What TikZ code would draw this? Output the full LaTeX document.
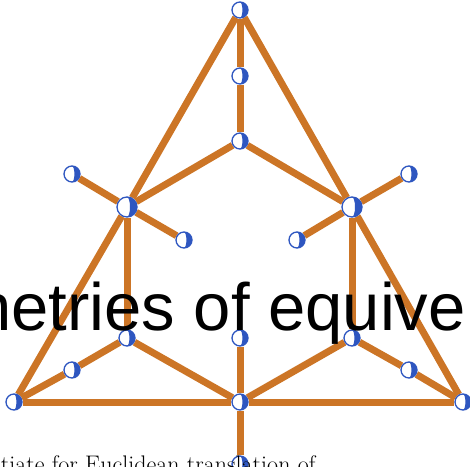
\documentclass[tikz,border=0pt]{standalone}
\usepackage{fontspec}
\newfontfamily\headfont{Liberation Sans}
\usepackage{tikz}
\definecolor{edgeorange}{HTML}{CC7526}
\definecolor{vertexblue}{HTML}{2E56C0}
\usetikzlibrary{backgrounds}

\begin{document}
\begin{tikzpicture}[
  x=1pt, y=1pt,
  vtx/.style={circle, draw=vertexblue, line width=1.3pt, fill=white,
              inner sep=0pt, minimum size=2*#1,
              path picture={\fill[vertexblue] (path picture bounding box.north)
                arc[start angle=90, end angle=-90, radius=#1]
                arc[start angle=-90, end angle=90, x radius=0.3*#1, y radius=#1]
                -- cycle;}},
  vtx/.default=8pt,
  hub/.style={vtx=10pt},
  edge/.style={draw=edgeorange, line width=7pt},
  banner/.style={font=\headfont\fontsize{67}{70}\selectfont, anchor=base west,
                 inner sep=0pt},
  caption/.style={font=\fontsize{24}{26}\selectfont, anchor=base west,
                  inner sep=0pt}
]
\useasboundingbox (0,0) rectangle (470,466);
\clip (0,0) rectangle (470,466);

\node[vtx] (top)   at (240,456) {};
\node[vtx] (upper) at (240,390) {};
\node[vtx] (inner) at (240,325) {};
\node[hub] (left)  at (127,259) {};
\node[hub] (right) at (352,259) {};
\node[vtx] (lout)  at (72,292)  {};
\node[vtx] (lin)   at (184,226) {};
\node[vtx] (rout)  at (409,292) {};
\node[vtx] (rin)   at (297,226) {};
\node[vtx] (llow)  at (127,128) {};
\node[vtx] (mlow)  at (240,128) {};
\node[vtx] (rlow)  at (352,128) {};
\node[vtx] (lmid)  at (72,96)   {};
\node[vtx] (rmid)  at (409,96)  {};
\node[vtx] (bl)    at (14,64)   {};
\node[vtx] (bm)    at (240,64)  {};
\node[vtx] (br)    at (463,64)  {};
\node[vtx] (stem)  at (240,2)   {};

\begin{scope}[on background layer]
\draw[edge] (top) -- (left) -- (bl);
\draw[edge] (top) -- (right) -- (br);
\draw[edge] (top) -- (upper) -- (inner);
\draw[edge] (inner) -- (left);
\draw[edge] (inner) -- (right);
\draw[edge] (lout) -- (left) -- (lin);
\draw[edge] (rout) -- (right) -- (rin);
\draw[edge] (left) -- (llow);
\draw[edge] (right) -- (rlow);
\draw[edge] (bl) -- (lmid) -- (llow) -- (bm);
\draw[edge] (br) -- (rmid) -- (rlow) -- (bm);
\draw[edge] (bl) -- (bm) -- (br);
\draw[edge] (mlow) -- (bm) -- (stem);
\end{scope}

\node[banner] (title) at (-26,136) {netries of equive};
\node[caption] (note) at (-11,-6) {ntiate for Euclidean translation of};
\end{tikzpicture}
\end{document}
